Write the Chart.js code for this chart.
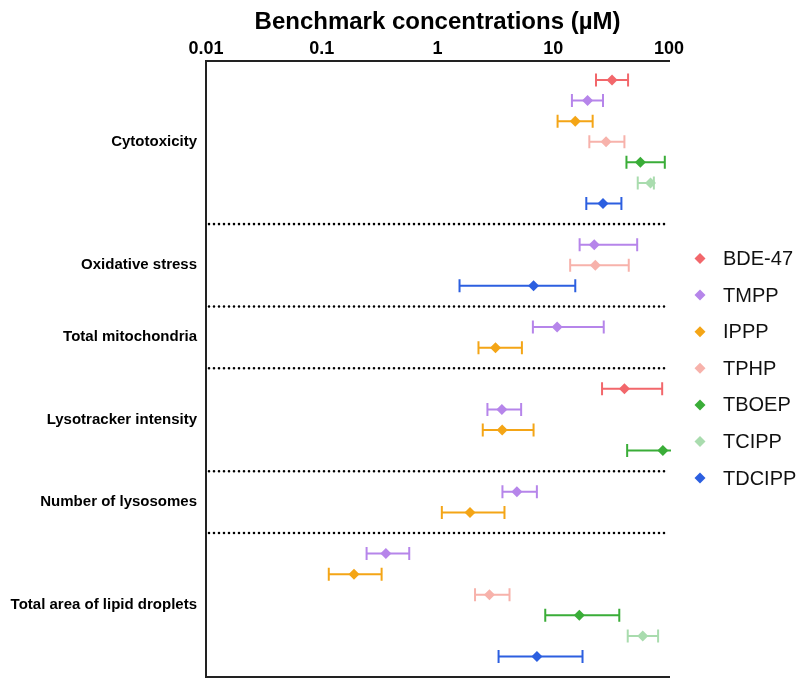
<!DOCTYPE html>
<html><head><meta charset="utf-8">
<script src="https://cdn.jsdelivr.net/npm/chart.js@4"></script>
<style>html,body{margin:0;padding:0;background:#fff}</style>
</head><body>
<canvas id="c" width="800" height="682" style="width:800px;height:682px;display:block"></canvas>
<script>
const categories = ["Cytotoxicity","Oxidative stress","Total mitochondria","Lysotracker intensity","Number of lysosomes","Total area of lipid droplets"];
const compounds = ["BDE-47","TMPP","IPPP","TPHP","TBOEP","TCIPP","TDCIPP"];
const colors = ["#f2676b","#b685ea","#f4a516","#f7b2ab","#3aad38","#a9dcae","#2c5fe0"];
const xTicks = [0.01,0.1,1,10,100];
const xTickLabels = ["0.01","0.1","1","10","100"];
const titleText = "Benchmark concentrations (\u00b5M)";

// [lower, BMC, upper] per category; null = not reported
const BDE47  = [[23.4,32.2,44.3], null, null, [26.4,41.2,87.3], null, null];
const TMPP   = [[14.5,19.8,26.9], [16.9,22.6,53.1], [6.67,10.8,27.3], [2.70,3.60,5.28], [3.64,4.85,7.22], [0.244,0.358,0.570]];
const IPPP   = [[10.9,15.5,21.9], null, [2.26,3.17,5.36], [2.46,3.62,6.76], [1.09,1.91,3.79], [0.115,0.19,0.329]];
const TPHP   = [[20.5,28.6,41.2], [14.0,23.1,44.9], null, null, null, [2.11,2.81,4.19]];
const TBOEP  = [[42.9,56.6,92.0], null, null, [43.5,88.5,130], null, [8.53,16.8,37.2]];
const TCIPP  = [[53.7,69.2,74.0], null, null, null, null, [44.0,59.3,80.5]];
const TDCIPP = [[19.3,26.9,38.8], [1.55,6.76,15.5], null, null, null, [3.37,7.23,17.9]];
const seriesValues = [BDE47, TMPP, IPPP, TPHP, TBOEP, TCIPP, TDCIPP];

// row slots: one per reported value, one blank row as separator between categories
let slot = 0;
const groupCenters = [], separators = [];
const slotOf = seriesValues.map(() => []);
categories.forEach((c, ci) => {
  const start = slot;
  seriesValues.forEach((vals, si) => { if (vals[ci]) { slotOf[si][ci] = slot; slot++; } });
  groupCenters.push((start + slot - 1) / 2);
  if (ci < categories.length - 1) { separators.push(slot); slot++; }
});

const FONT = '"Liberation Sans", Arial, Helvetica, sans-serif';

const datasets = compounds.map((name, si) => {
  const data = [];
  seriesValues[si].forEach((v, ci) => {
    if (v) data.push({x: v[1], y: slotOf[si][ci], lo: v[0], hi: v[2]});
  });
  return {
    label: name, data,
    backgroundColor: colors[si], borderColor: colors[si],
    pointStyle: 'rectRot', pointRadius: 5.5, pointHoverRadius: 5.5, borderWidth: 0
  };
});

const decorPlugin = {
  id: 'decor',
  beforeDatasetsDraw(chart) {
    const {ctx, chartArea: a, scales: {x, y}} = chart;
    ctx.save();
    // dotted separators
    ctx.strokeStyle = '#000'; ctx.lineWidth = 2.6; ctx.lineCap = 'round';
    ctx.setLineDash([0, 5]);
    separators.forEach(s => {
      const py = y.getPixelForValue(s);
      ctx.beginPath(); ctx.moveTo(a.left + 3, py); ctx.lineTo(a.right, py); ctx.stroke();
    });
    ctx.setLineDash([]); ctx.lineCap = 'butt';
    // error bars
    ctx.beginPath(); ctx.rect(a.left, a.top - 10, a.right - a.left + 2, a.bottom - a.top + 20); ctx.clip();
    chart.data.datasets.forEach(ds => {
      ctx.strokeStyle = ds.borderColor; ctx.lineWidth = 2;
      ds.data.forEach(p => {
        const py = y.getPixelForValue(p.y);
        const x0 = x.getPixelForValue(p.lo), x1 = x.getPixelForValue(p.hi);
        ctx.beginPath();
        ctx.moveTo(x0, py); ctx.lineTo(x1, py);
        ctx.moveTo(x0, py - 6.5); ctx.lineTo(x0, py + 6.5);
        ctx.moveTo(x1, py - 6.5); ctx.lineTo(x1, py + 6.5);
        ctx.stroke();
      });
    });
    ctx.restore();
  },
  afterDraw(chart) {
    const {ctx} = chart;
    ctx.save();
    ctx.font = '20px ' + FONT; ctx.textBaseline = 'middle'; ctx.textAlign = 'left';
    chart.data.datasets.forEach((ds, i) => {
      const ly = 258.5 + i * 36.6;
      const mx = 700, r = 5.5;
      ctx.fillStyle = ds.backgroundColor;
      ctx.beginPath();
      ctx.moveTo(mx - r, ly); ctx.lineTo(mx, ly - r); ctx.lineTo(mx + r, ly); ctx.lineTo(mx, ly + r);
      ctx.closePath(); ctx.fill();
      ctx.fillStyle = '#111';
      ctx.fillText(ds.label, 723, ly + 1);
    });
    ctx.restore();
  }
};

new Chart(document.getElementById('c'), {
  type: 'scatter',
  data: {datasets},
  options: {
    responsive: false, animation: false, devicePixelRatio: 1,
    layout: {padding: {left: 0, right: 131, top: 0, bottom: 0}},
    plugins: {legend: {display: false}, tooltip: {enabled: false}},
    events: [],
    scales: {
      x: {
        type: 'logarithmic', position: 'top', min: 0.01, max: 100,
        afterBuildTicks: s => { s.ticks = xTicks.map(v => ({value: v})); },
        afterFit: s => { s.height = 61; },
        grid: {display: false, drawTicks: false},
        border: {display: true, color: '#222', width: 2},
        ticks: {
          autoSkip: false, maxRotation: 0, padding: 1, color: '#000',
          font: {family: FONT, size: 18, weight: 'bold'},
          callback: (v, i) => xTickLabels[i]
        },
        title: {display: true, text: titleText, color: '#000',
          font: {family: FONT, size: 24, weight: 'bold'}, padding: {top: 8, bottom: 0}}
      },
      xb: {
        type: 'logarithmic', position: 'bottom', min: 0.01, max: 100,
        afterFit: s => { s.height = 4; },
        grid: {display: false, drawTicks: false},
        border: {display: true, color: '#222', width: 2},
        ticks: {display: false}
      },
      y: {
        type: 'linear', reverse: true, min: -0.92, max: 28.97,
        afterBuildTicks: s => { s.ticks = groupCenters.map(v => ({value: v})); },
        afterFit: s => { s.width = 206; s.paddingTop = 0; s.paddingBottom = 0; },
        grid: {display: false, drawTicks: false},
        border: {display: true, color: '#222', width: 2},
        ticks: {
          autoSkip: false, padding: 9, color: '#000',
          font: {family: FONT, size: 15, weight: 'bold'},
          callback: (v, i) => categories[i]
        }
      }
    }
  },
  plugins: [decorPlugin]
});
</script>
</body></html>
